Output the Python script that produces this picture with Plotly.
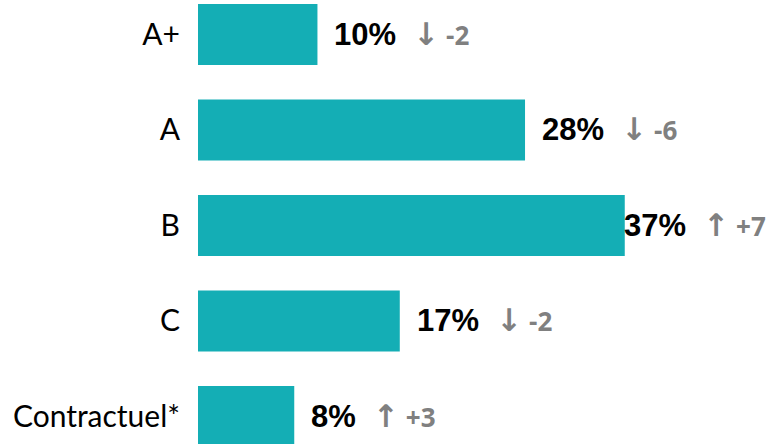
import plotly.graph_objects as go

categories = ["A+", "A", "B", "C", "Contractuel*"]
shares = [10.3, 28.2, 36.8, 17.4, 8.3]
share_labels = ["10%", "28%", "37%", "17%", "8%"]
changes = [-2, -6, 7, -2, 3]

BAR = "#14AEB5"
GREY = "#808080"

fig = go.Figure()
fig.add_bar(
    y=categories,
    x=shares,
    orientation="h",
    marker_color=BAR,
    marker_line_width=0,
    hoverinfo="skip",
)

top = max(shares)
for cat, val, lab, chg in zip(categories, shares, share_labels, changes):
    arrow = "↑" if chg > 0 else "↓"
    txt = (
        f"<b>{lab}</b>  "
        f"<span style='font-family:DejaVu Sans;font-size:31px;color:{GREY}'><b>{arrow}</b></span>"
        f"<span style='font-family:Open Sans;font-size:26px;color:{GREY}'>"
        f" <b>{chg:+d}</b></span>"
    )
    # the longest bar's label would run off the edge, so it sits on the bar end
    fig.add_annotation(
        x=val,
        y=cat,
        text=txt,
        showarrow=False,
        xanchor="left",
        yanchor="middle",
        xshift=-3 if val == top else 15,
        font={"family": "Liberation Sans", "size": 31, "color": "#000000"},
    )

fig.update_layout(
    width=779,
    height=444,
    paper_bgcolor="white",
    plot_bgcolor="white",
    showlegend=False,
    bargap=0.36,
    margin={"l": 198, "r": 0, "t": 0, "b": 0},
    xaxis={
        "range": [0, 50.1],
        "showgrid": False,
        "zeroline": False,
        "showticklabels": False,
        "showline": False,
    },
    yaxis={
        "range": [4.288, -0.361],
        "showgrid": False,
        "zeroline": False,
        "showline": False,
        "ticks": "",
        "ticklabelstandoff": 17,
        "tickfont": {"family": "Lato", "size": 30, "color": "#000000"},
    },
)

fig.write_html(
    "out.html",
    config={"displayModeBar": False},
    post_script="document.body.style.margin='0';",
)
